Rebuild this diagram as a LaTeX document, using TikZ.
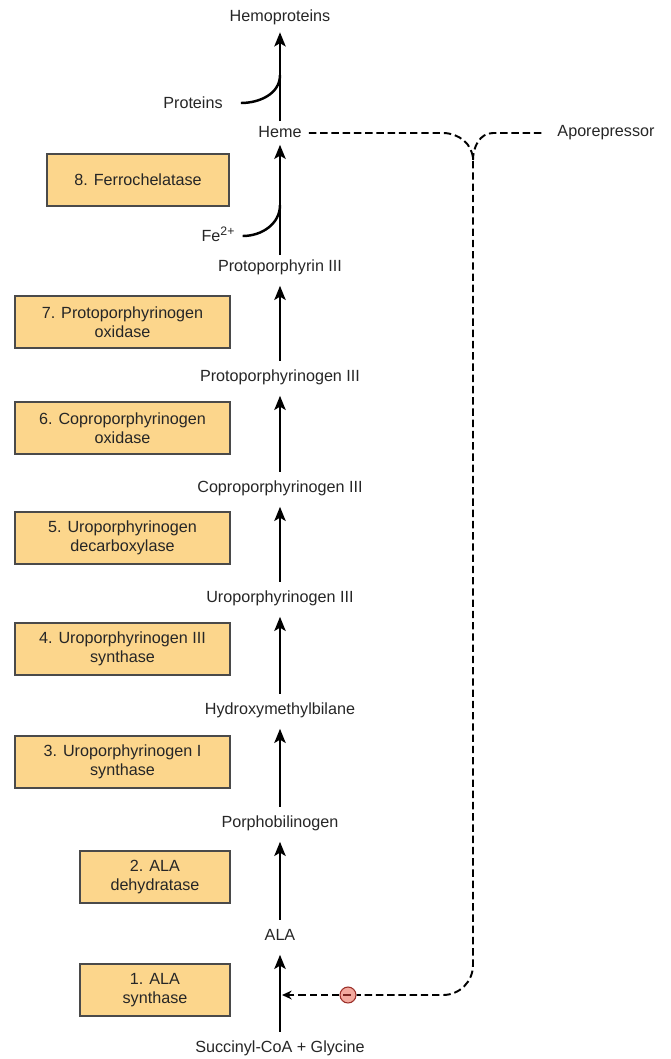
\documentclass[tikz,border=0pt]{standalone}
\usepackage{fontspec}
\setmainfont{Liberation Sans}
\usetikzlibrary{arrows.meta}
\definecolor{enzfill}{HTML}{FCD68C}
\definecolor{enzline}{HTML}{4A4A4A}
\definecolor{inhfill}{HTML}{F3A99E}
\definecolor{inhline}{HTML}{9A2E28}

\begin{document}
\begin{tikzpicture}[x=0.02cm, y=-0.02cm,
    every node/.style={font=\fontsize{9.2}{10.8}\selectfont, text=black!85},
    met/.style={inner sep=0pt, text height=7pt, text depth=2pt},
    enz/.style={draw=enzline, fill=enzfill, line width=0.6pt, align=center, minimum height=1.04cm, inner sep=2pt},
    flow/.style={-{Stealth[length=8pt, width=6.4pt, inset=1.8pt]}, line width=1.4pt},
    feed/.style={line width=1.1pt, dash pattern=on 4.2pt off 2.2pt}]
    \useasboundingbox (0,0) rectangle (670,1059);
    % pathway intermediates
    \foreach \i/\y/\t in {0/1048/Succinyl-CoA + Glycine, 1/936/ALA, 2/823/Porphobilinogen,
        3/710/Hydroxymethylbilane, 4/598/Uroporphyrinogen III, 5/488/Coproporphyrinogen III,
        6/377/Protoporphyrinogen III, 7/267/Protoporphyrin III, 8/133/Heme, 9/17/Hemoproteins} {
      \node[met] (p\i) at (280,\y) {\t};
    }
    \foreach \i/\j in {0/1, 1/2, 2/3, 3/4, 4/5, 5/6, 6/7} {
      \draw[flow, shorten <=4.5pt, shorten >=6pt] (p\i) -- (p\j);
    }
    \draw[flow, shorten <=2pt, shorten >=2pt] (p7) -- (p8);
    \draw[flow, shorten <=2pt, shorten >=4pt] (p8) -- (p9);
    % enzymes
    \foreach \i/\x/\y/\w/\t in {1/155/990/3.0/{1. ALA\\synthase}, 2/155/877/3.0/{2. ALA\\dehydratase},
        3/122.5/762/4.3/{3. Uroporphyrinogen I\\synthase}, 4/122.5/649/4.3/{4. Uroporphyrinogen III\\synthase},
        5/122.5/538/4.3/{5. Uroporphyrinogen\\decarboxylase}, 6/122.5/428/4.3/{6. Coproporphyrinogen\\oxidase},
        7/122.5/322/4.3/{7. Protoporphyrinogen\\oxidase}, 8/138/180/3.64/{8. Ferrochelatase}} {
      \node[enz, minimum width=\w cm] (e\i) at (\x,\y) {\t};
    }
    % side substrates
    \node (prot) at (193,103) {Proteins};
    \node (fe) at (218,234) {Fe\raisebox{0.75ex}{\fontsize{7}{7}\selectfont 2+}};
    \coordinate (protin) at (280,75);
    \coordinate (fein) at (280,205);
    \draw[line width=1.4pt] (prot.east) ++(12,0) to[out=0, in=-90] (protin);
    \draw[line width=1.4pt] (fe.east) ++(2,2) to[out=0, in=-90] (fein);
    % heme feedback on ALA synthase
    \node (apo) at (606,133) {Aporepressor};
    \node[circle, draw=inhline, fill=inhfill, line width=0.6pt, minimum size=0.32cm, inner sep=0pt] (inh) at (348,995) {};
    \draw[inhline!80!black, line width=0.6pt] (inh.west) ++(4,0) -- ++(8,0);
    \coordinate (tap) at (282,995);
    \draw[feed] (p8.east) ++(7,0) -- (443,133) to[out=0, in=90] (473,160) -- (473,965)
        to[out=-90, in=0] (443,995) -- (inh.east);
    \draw[feed] (apo.west) ++(-10,0) -- (493,133) to[out=180, in=90] (473,160);
    \draw[feed, -{Stealth[length=5.5pt, width=5pt]}] (inh.west) -- (tap);
\end{tikzpicture}
\end{document}
